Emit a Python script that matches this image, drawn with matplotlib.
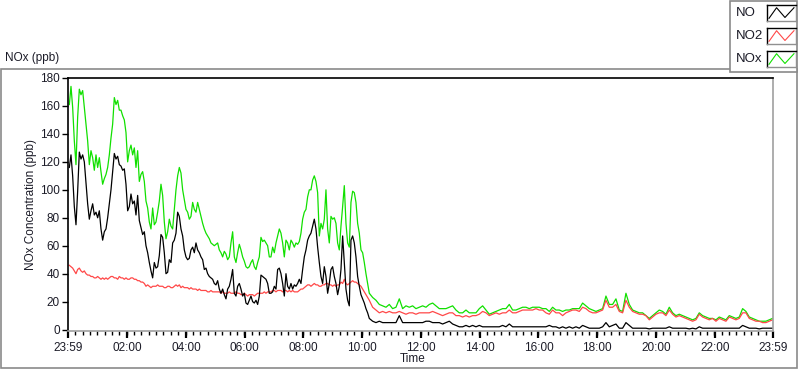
"""
NOx / NO / NO2 concentration over one day
"""

import numpy as np
import matplotlib
matplotlib.use('Agg')
import matplotlib.pyplot as plt
from matplotlib.patches import Rectangle
from matplotlib.ticker import FixedLocator

# ---------------- data (ppb) ----------------
# first ~10.25 h: one sample every 3.404 min, starting 2.7 min after 23:59
step_fine = 3.404
t0 = 2.7

no_fine = [116,125,110,88,75,99,127,122,125,120, 105,90,79,85,90,82,84,80,85,72,
           64,70,72,80,90,100,113,126,122,124, 118,117,114,115,104,85,88,97,90,92,
           82,96,78,73,68,70,60,55,48,42, 37,48,44,45,53,68,66,55,40,41, 50,
           48,62,64,69,84,81,72,67,57,52, 50,51,57,59,55,62,57,55,52,50,
           43,44,40,38,37,36,33,32,35,29, 26,29,25,22,29,31,36,43,26,24,
           31,33,29,24,26,19,18,21,24,20, 19,21,18,24,39,38,37,36,33,26,
           26,27,31,29,43,44,40,33,24,40, 31,29,33,29,32,31,33,36,33,43,
           52,57,64,67,69,74,79,72,59,48, 38,33,45,38,26,33,43,45,38,33,
           25,31,43,67,48,29,21,17,64,67, 62,52,38,31,25,22,19,15,12,8]

no2_fine = [46,45,44,42,40,43,44,42,41,42, 40,39,39,38,38,37,37,38,37,36,
            37,36,37,36,37,38,38,37,37,36, 38,37,37,36,37,36,36,37,37,36,
            36,35,35,34,34,33,31,32,31,30, 31,31,31,32,31,31,31,30,30,31, 31,
            30,30,31,32,31,32,30,31,30,30, 30,29,30,29,29,29,28,29,28,28,
            28,28,27,27,28,27,27,27,27,27, 26,27,26,26,26,27,26,26,26,27,
            26,26,25,25,26,25,24,25,25,25, 24,25,26,26,26,26,27,26,27,27,
            27,28,28,27,28,28,28,27,28,28, 27,28,27,28,27,27,27,28,29,29,
            30,31,32,32,31,32,33,32,32,31, 31,32,32,33,33,32,32,31,32,31,
            32,32,34,33,36,33,32,33,34,35, 34,34,33,32,31,29,27,25,23,21]

nox_fine = [161,174,159,135,118,152,172,168,171,159, 147,135,118,128,123,114,125,116,123,113,
            104,108,111,116,125,137,147,166,161,164, 157,157,153,150,141,120,128,132,125,130,
            116,128,106,111,113,106,92,87,77,72, 87,75,77,84,92,104,96,77,65,70, 79,
            74,72,86,100,110,116,112,100,93,86, 84,79,81,91,86,84,91,86,81,76,
            72,69,67,65,62,61,60,61,62,57, 55,52,56,54,50,52,62,70,52,48,
            55,61,57,52,49,45,44,45,48,50, 45,43,48,52,66,63,64,62,60,52,
            52,59,55,62,67,72,69,62,52,64, 62,57,64,62,59,62,61,63,69,79,
            84,86,95,100,100,107,110,106,98,67, 76,72,79,100,72,62,81,79,80,76,
            62,57,74,88,103,76,62,59,91,99, 98,91,76,69,57,55,48,40,33,26]

# rest of the day: one sample every 6.81 min
step_coarse = 6.808

no_coarse = [6,5,6,5,5,5,5,5,10,5, 5,5,5,5,5,5,6,6,5,5, 5,4,5,6,4,3,2,2,3,2,
             3,2,3,2,2,2,2,2,2,3, 2,4,2,2,2,2,2,2,2,2, 2,2,2,3,2,2,1,2,1,2, 1,2,
             1,3,2,1,1,1,1,2,5,2, 3,4,1,1,5,3,1,1,1,1, 1,0.5,1,1,1,1,1,2,1,1,
             1,1,1,0.5,1,0.5,2,1,1,1, 1,1,1,1,1,1,1,1,1,3, 2,1,1,1,0.5,1,1,1,1]

no2_coarse = [16,14,12,13,12,13,12,12,13,12, 11,12,12,11,12,12,12,12,13,12,
              11,10,11,12,12,10,10,9,10,9, 10,10,11,13,12,10,11,12,11,12,
              12,14,12,12,13,14,14,14,14,15, 14,14,12,11,14,12,12,10,12,13, 14,14,
              13,16,15,13,12,12,13,14,21,16, 16,18,13,12,21,16,13,12,11,11,
              10,7,9,11,12,12,10,14,11,9, 10,9,8,7,6,7,11,9,8,7,
              8,6,8,7,6,9,8,7,8,12, 12,8,7,6,6,5,5,6,7]

nox_coarse = [23,21,18,17,16,18,15,16,22,15, 17,16,17,15,16,17,16,18,19,17,
              15,15,15,16,17,14,12,12,14,12, 12,12,15,17,14,11,12,13,14,15,
              15,18,14,14,15,16,16,15,16,16, 16,15,15,13,16,14,14,13,14,14, 15,15,
              15,19,17,15,14,13,14,15,24,18, 18,22,14,13,26,18,14,13,12,12,
              10,8,10,12,14,13,11,16,12,10, 11,10,9,8,7,8,12,10,9,8,
              8,7,9,8,7,10,9,8,9,15, 13,9,8,7,6,6,6,7,8]

series_names = ['NO', 'NO2', 'NOx']
series_colors = ['#000000', '#ff4848', '#11e000']

xtick_labels = ['23:59', '02:00', '04:00', '06:00', '08:00', '10:00', '12:00',
                '14:00', '16:00', '18:00', '20:00', '22:00', '23:59']
xtick_minutes = [0, 121, 241, 361, 481, 601, 721, 841, 961, 1081, 1201, 1321, 1440]

# ---------------- time axis ----------------
t_fine = t0 + step_fine * np.arange(len(no_fine))
t_coarse = t_fine[-1] + step_coarse * np.arange(1, len(no_coarse) + 1)
t_all = np.concatenate([t_fine, t_coarse])

no = np.concatenate([no_fine, no_coarse])
no2 = np.concatenate([no2_fine, no2_coarse])
nox = np.concatenate([nox_fine, nox_coarse])

# ---------------- plotting ----------------
plt.close('all')
plt.rcParams['font.family'] = ['Liberation Sans', 'DejaVu Sans']
txt_col = '#1c1c28'
fs = 8.5

W, H = 800, 369
fig = plt.figure(figsize=(W / 100, H / 100), dpi=100)
fig.patch.set_facecolor('white')

def fx(px):
    return px / W

def fy(py):
    return 1 - py / H

# outer panel frame
fig.patches.append(Rectangle((fx(1), fy(368)), fx(796), (368 - 69) / H,
                             transform=fig.transFigure, fill=False,
                             edgecolor='#8a8a8a', linewidth=1.2, zorder=0))

ax = fig.add_axes([fx(68), fy(331), fx(773) - fx(68), (331 - 78) / H])
ax.plot(t_all, nox, color=series_colors[2], lw=0.9)
ax.plot(t_all, no2, color=series_colors[1], lw=0.9)
ax.plot(t_all, no, color=series_colors[0], lw=0.9)

ax.set_xlim(0, 1440)
ax.set_ylim(-1, 180)
ax.set_yticks(np.arange(0, 181, 20))
ax.tick_params(axis='y', direction='out', length=4, width=1, colors='black',
               labelcolor=txt_col, labelsize=fs, pad=2)
ax.xaxis.set_major_locator(FixedLocator(xtick_minutes))
ax.set_xticklabels(xtick_labels)
ax.xaxis.set_minor_locator(FixedLocator(np.arange(15, 1440, 15)))
ax.tick_params(axis='x', which='major', direction='out', length=5, width=1.6,
               colors='black', labelcolor=txt_col, labelsize=fs, pad=3)
ax.tick_params(axis='x', which='minor', direction='out', length=3, width=1,
               colors='black')

ax.spines['top'].set_color('black')
ax.spines['left'].set_color('black')
ax.spines['right'].set_color('#a0a0a0')
ax.spines['bottom'].set_color('#a0a0a0')
for s in ax.spines.values():
    s.set_linewidth(1.2)

fig.text(fx(31), fy(205), 'NOx Concentration (ppb)', rotation=90, ha='center',
         va='center', fontsize=fs, color=txt_col)
fig.text(fx(413), fy(359), 'Time', ha='center', va='center', fontsize=fs,
         color=txt_col)
fig.text(fx(5), fy(58), 'NOx (ppb)', ha='left', va='center', fontsize=fs,
         color=txt_col)

# legend box (LabVIEW style plot legend)
fig.patches.append(Rectangle((fx(730), fy(72)), fx(797) - fx(730), 71 / H,
                             transform=fig.transFigure, facecolor='white',
                             edgecolor='#8a8a8a', linewidth=1.2, zorder=5))
zig_x = [0.07, 0.33, 0.62, 0.93]
zig_y = [0.17, 0.83, 0.22, 0.83]
for k, (name, col) in enumerate(zip(series_names, series_colors)):
    top = 5 + k * 23
    fig.text(fx(736), fy(top + 8), name, ha='left', va='center', fontsize=9.5,
             color=txt_col, zorder=6)
    lax = fig.add_axes([fx(767), fy(top + 16), fx(29), 16 / H])
    lax.set_zorder(10)
    lax.plot(zig_x, zig_y, color=col, lw=0.8)
    lax.set_xlim(0, 1)
    lax.set_ylim(0, 1)
    lax.set_xticks([])
    lax.set_yticks([])
    for side, c in zip(['top', 'left', 'right', 'bottom'],
                       ['black', 'black', '#909090', '#909090']):
        lax.spines[side].set_color(c)
        lax.spines[side].set_linewidth(1)

fig.savefig('out.png', dpi=100)
